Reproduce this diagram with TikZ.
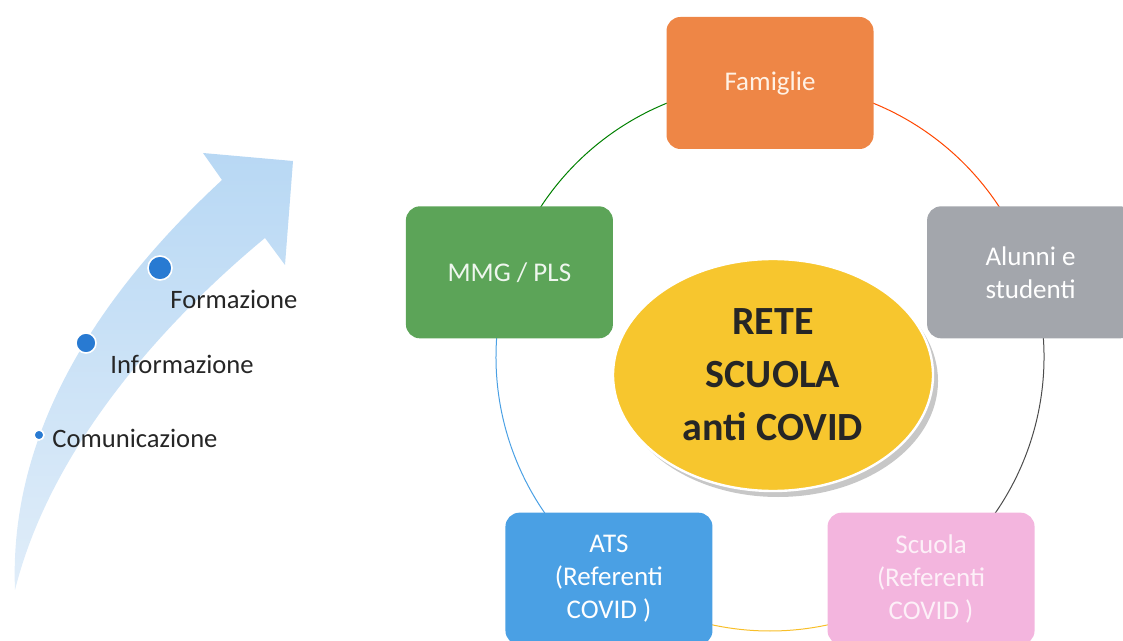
\documentclass[tikz,border=0pt]{standalone}
\usepackage{fontspec}
\setmainfont{Carlito}
\usetikzlibrary{shapes.geometric,positioning,calc,shadings}

\definecolor{famorange}{RGB}{238,134,70}
\definecolor{alugray}{RGB}{163,166,172}
\definecolor{mmggreen}{RGB}{92,164,88}
\definecolor{atsblue}{RGB}{74,160,228}
\definecolor{scupink}{RGB}{243,181,222}
\definecolor{hubyellow}{RGB}{247,198,46}
\definecolor{arrtop}{RGB}{184,216,244}
\definecolor{arrbot}{RGB}{224,237,249}
\definecolor{dotblue}{RGB}{40,122,210}

\begin{document}
\begin{tikzpicture}[
    x=0.5pt, y=-0.5pt,
    netbox/.style={rectangle, rounded corners=7pt, minimum width=103.5pt, minimum height=66pt, align=center, text=white, font=\fontsize{13.5}{16.5}\selectfont},
    hub/.style={ellipse, fill=hubyellow, draw=white, line width=1.2pt, minimum width=160pt, minimum height=116pt, align=center, font=\fontsize{20}{26.5}\selectfont\bfseries, text=black!85},
    stagedot/.style={circle, fill=dotblue, draw=white, line width=0.8pt, inner sep=0pt},
    stagelbl/.style={anchor=west, inner sep=0pt, font=\fontsize{13.3}{15}\selectfont, text=black!85},
    ring/.style={line width=0.5pt}
]
\useasboundingbox (0,0) rectangle (1123,641);

% left: growth arrow
\shade[top color=arrtop, bottom color=arrbot]
  (15,590) .. controls (10,470) and (60,330) .. (222,180) -- (203,153) -- (293,161)
  -- (285,265) -- (265,238) .. controls (190,300) and (55,430) .. (15,590) -- cycle;

\node[stagedot, minimum size=12pt] (dform) at (160,268) {};
\node[stagedot, minimum size=10pt] (dinfo) at (86,343) {};
\node[stagedot, minimum size=5pt] (dcomu) at (39,435) {};
\node[stagelbl] (form) at (170,299) {Formazione};
\node[stagelbl] (info) at (110,364) {Informazione};
\node[stagelbl] (comu) at (52,438) {Comunicazione};

% right: network round the hub
\coordinate (mid) at (770,357);
\coordinate (pfam) at ($(mid)+(-90:274)$);
\coordinate (palu) at ($(mid)+(-18:274)$);
\coordinate (pscu) at ($(mid)+(54:274)$);
\coordinate (pats) at ($(mid)+(126:274)$);
\coordinate (pmmg) at ($(mid)+(198:274)$);

\draw[ring, draw=orange!55!red] (pfam) arc[start angle=-90, end angle=-18, radius=274];
\draw[ring, draw=black!70] (palu) arc[start angle=-18, end angle=54, radius=274];
\draw[ring, draw=hubyellow!90!orange] (pscu) arc[start angle=54, end angle=126, radius=274];
\draw[ring, draw=atsblue] (pats) arc[start angle=126, end angle=198, radius=274];
\draw[ring, draw=green!50!black] (pmmg) arc[start angle=198, end angle=270, radius=274];

\node[ellipse, fill=black!22, minimum width=160pt, minimum height=116pt] (hubshadow) at (778,381) {};
\node[hub] (rete) at (773,375) {RETE\\SCUOLA\\anti COVID};

\node[netbox, fill=famorange, text=white!90!orange] (fam) at (pfam) {Famiglie};
\node[netbox, fill=alugray] (alunni) at (palu) {Alunni e\\studenti};
\node[netbox, fill=scupink, text=white!80!scupink] (scuola) at (pscu) {Scuola\\(Referenti\\COVID )};
\node[netbox, fill=atsblue] (ats) at (pats) {ATS\\(Referenti\\COVID )};
\node[netbox, fill=mmggreen, text=white!90!mmggreen] (mmg) at (pmmg) {MMG / PLS};

\end{tikzpicture}
\end{document}
